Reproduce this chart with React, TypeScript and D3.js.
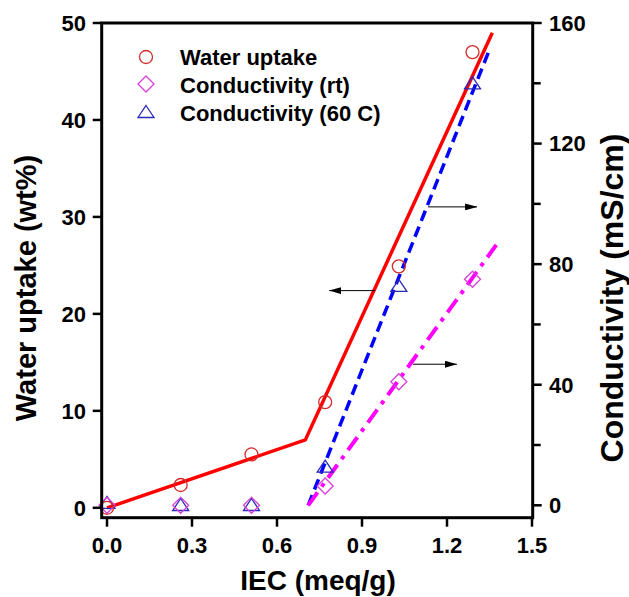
import React from "react";
import * as d3 from "d3";

// ---- data ----
const iec = [0, 0.26, 0.51, 0.77, 1.03, 1.29];
const waterUptake = [0, 2.35, 5.5, 10.9, 24.9, 47.0];
const condRT = [0, 0, 0, 6.4, 41, 75];
const cond60 = [0.8, 0.1, 0.1, 12.8, 72.8, 140];

const waterFitX = [0, 0.7, 1.36];
const waterFitY = [0, 7.0, 49];
const cond60FitX = [0.71, 1.347];
const cond60FitY = [0, 150.5];
const condRTFitX = [0.71, 1.374];
const condRTFitY = [0, 86.4];

const xTicks = [0, 0.3, 0.6, 0.9, 1.2, 1.5];
const leftTicks = [0, 10, 20, 30, 40, 50];
const rightTicks = [0, 40, 80, 120, 160];
const rightMinor = [20, 60, 100, 140];

const legendLabels = ["Water uptake", "Conductivity (rt)", "Conductivity (60 C)"];

// arrows: [x start, x end, y value, axis]
const arrowX0 = [0.946, 1.133, 1.08];
const arrowX1 = [0.784, 1.306, 1.235];
const arrowY = [22.4, 99, 46.8];
const arrowAxis = ["left", "right", "right"];

const FONT = "'Liberation Sans', Arial, Helvetica, sans-serif";

export default function App() {
  const W = 629, H = 597;
  const frameL = 101.7, frameR = 532.7, frameT = 23, frameB = 517.7;
  const x = d3.scaleLinear().domain([0, 1.5]).range([107, 532]);
  const yL = d3.scaleLinear().domain([0, 50]).range([507.8, 23]);
  const yR = d3.scaleLinear().domain([0, 160]).range([505.3, 23]);

  const lineL = d3.line<[number, number]>().x(d => x(d[0])).y(d => yL(d[1]));
  const lineR = d3.line<[number, number]>().x(d => x(d[0])).y(d => yR(d[1]));

  const zip = (a: number[], b: number[]) => a.map((v, i) => [v, b[i]] as [number, number]);

  const red = "#ff0000";
  const blue = "#0000ff";
  const mag = "#ff00ff";
  const redM = "#d42a2a";
  const magM = "#d93fd9";
  const blueM = "#2a2ab8";

  const circle = (cx: number, cy: number, k: string | number) => (
    <circle key={k} cx={cx} cy={cy} r={6.5} fill="none" stroke={redM} strokeWidth={1.3} />
  );
  const diamond = (cx: number, cy: number, k: string | number) => (
    <path key={k} d={`M${cx},${cy - 8}L${cx + 8},${cy}L${cx},${cy + 8}L${cx - 8},${cy}Z`} fill="none" stroke={magM} strokeWidth={1.3} />
  );
  const triangle = (cx: number, cy: number, k: string | number) => (
    <path key={k} d={`M${cx},${cy - 6.5}L${cx + 8},${cy + 5.5}L${cx - 8},${cy + 5.5}Z`} fill="none" stroke={blueM} strokeWidth={1.3} />
  );

  return (
    <svg width={W} height={H} style={{ position: "absolute", left: 0, top: 0, background: "#fff" }} fontFamily={FONT}>
      <defs>
        <marker id="ah" viewBox="0 0 12 7" refX="12" refY="3.5" markerWidth="12" markerHeight="7" markerUnits="userSpaceOnUse" orient="auto">
          <path d="M0,0L12,3.5L0,7Z" fill="#000" />
        </marker>
      </defs>

      {/* fit lines */}
      <path d={lineL(zip(waterFitX, waterFitY)) || ""} fill="none" stroke={red} strokeWidth={3.5} />
      <path d={lineR(zip(cond60FitX, cond60FitY)) || ""} fill="none" stroke={blue} strokeWidth={3.5} strokeDasharray="11,6" />
      <path d={lineR(zip(condRTFitX, condRTFitY)) || ""} fill="none" stroke={mag} strokeWidth={4} strokeDasharray="16,7,4,7" />

      {/* markers */}
      {iec.map((v, i) => triangle(x(v), yR(cond60[i]), "t" + i))}
      {iec.map((v, i) => diamond(x(v), yR(condRT[i]), "d" + i))}
      {iec.map((v, i) => circle(x(v), yL(waterUptake[i]), "c" + i))}

      {/* arrows */}
      {arrowY.map((v, i) => {
        const ys = arrowAxis[i] === "left" ? yL(v) : yR(v);
        return <line key={"a" + i} x1={x(arrowX0[i])} x2={x(arrowX1[i])} y1={ys} y2={ys} stroke="#000" strokeWidth={1} markerEnd="url(#ah)" />;
      })}

      {/* frame */}
      <rect x={frameL} y={frameT} width={frameR - frameL} height={frameB - frameT} fill="none" stroke="#000" strokeWidth={3} />

      {/* x ticks */}
      {xTicks.map(t => (
        <g key={"x" + t}>
          <line x1={x(t)} x2={x(t)} y1={frameB} y2={frameB + 9} stroke="#000" strokeWidth={2.5} />
          <text x={x(t)} y={553} textAnchor="middle" fontSize={22} fontWeight="bold">{t.toFixed(1)}</text>
        </g>
      ))}

      {/* left ticks */}
      {leftTicks.map(t => (
        <g key={"l" + t}>
          <line x1={frameL - 9} x2={frameL} y1={yL(t)} y2={yL(t)} stroke="#000" strokeWidth={2.5} />
          <text x={86} y={yL(t)} dy="0.36em" textAnchor="end" fontSize={22} fontWeight="bold">{t}</text>
        </g>
      ))}

      {/* right ticks */}
      {rightTicks.map(t => (
        <g key={"r" + t}>
          <line x1={frameR} x2={frameR + 9} y1={yR(t)} y2={yR(t)} stroke="#000" strokeWidth={2.5} />
          <text x={549} y={yR(t)} dy="0.36em" textAnchor="start" fontSize={22} fontWeight="bold">{t}</text>
        </g>
      ))}
      {rightMinor.map(t => (
        <line key={"rm" + t} x1={frameR} x2={frameR + 8} y1={yR(t)} y2={yR(t)} stroke="#000" strokeWidth={2.5} />
      ))}

      {/* axis titles */}
      <text x={318} y={590} textAnchor="middle" fontSize={28} fontWeight="bold">IEC (meq/g)</text>
      <text transform={`translate(35.5,288) rotate(-90)`} textAnchor="middle" fontSize={29} fontWeight="bold">Water uptake (wt%)</text>
      <text transform={`translate(623,298) rotate(-90)`} textAnchor="middle" fontSize={32} fontWeight="bold">Conductivity (mS/cm)</text>

      {/* legend */}
      {circle(146, 57, "lc")}
      {diamond(146, 84, "ld")}
      {triangle(146, 112, "lt")}
      {legendLabels.map((s, i) => (
        <text key={"lg" + i} x={180} y={65 + i * 28} fontSize={22} fontWeight="bold">{s}</text>
      ))}
    </svg>
  );
}
